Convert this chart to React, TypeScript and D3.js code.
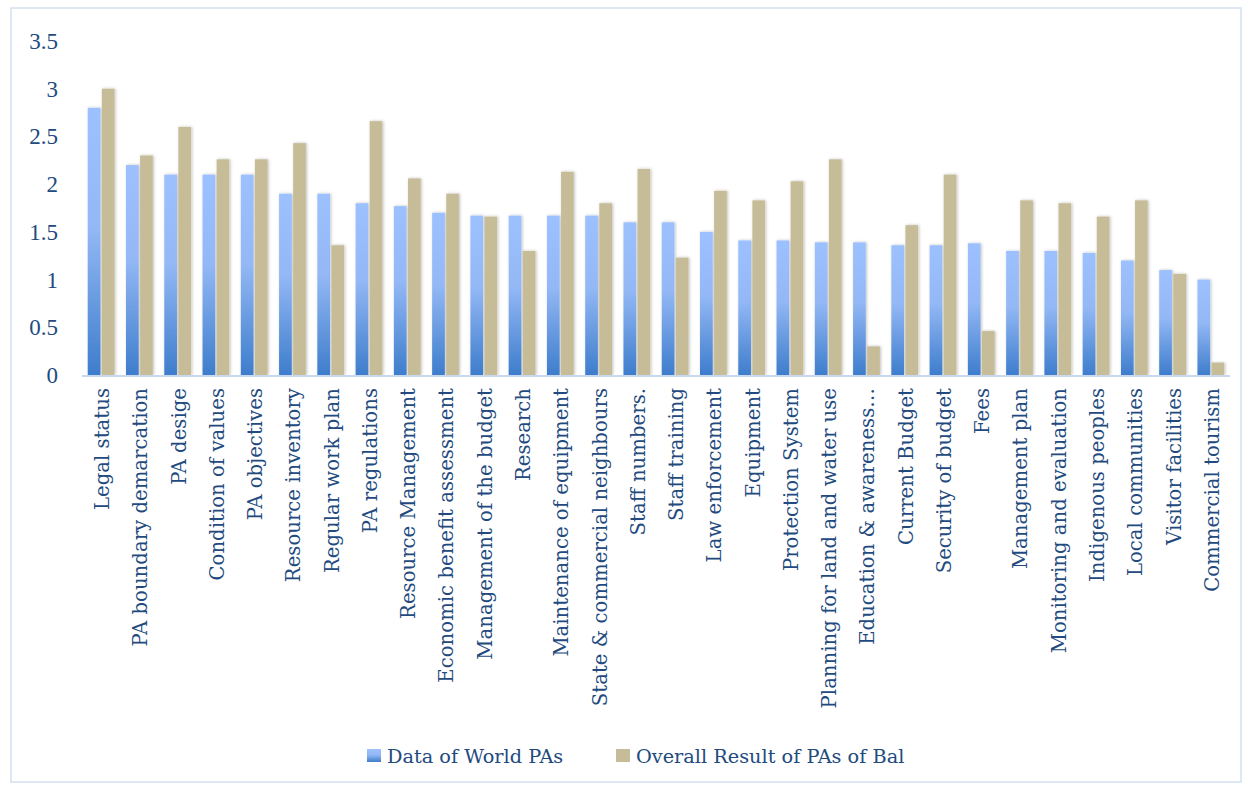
import React, { useEffect, useRef } from 'react';
import * as d3 from 'd3';

// categories along the x axis
const categories = [
  'Legal status', 'PA boundary demarcation', 'PA desige', 'Condition of values', 'PA objectives',
  'Resource inventory', 'Regular work plan', 'PA regulations', 'Resource Management',
  'Economic benefit assessment', 'Management of the budget', 'Research', 'Maintenance of equipment',
  'State & commercial neighbours', 'Staff numbers.', 'Staff training', 'Law enforcement', 'Equipment',
  'Protection System', 'Planning for land and water use', 'Education & awareness…', 'Current Budget',
  'Security of budget', 'Fees', 'Management plan', 'Monitoring and evaluation', 'Indigenous peoples',
  'Local communities', 'Visitor facilities', 'Commercial tourism',
];

const worldPAs = [
  2.8, 2.2, 2.1, 2.1, 2.1, 1.9, 1.9, 1.8, 1.77, 1.7, 1.67, 1.67, 1.67, 1.67, 1.6,
  1.6, 1.5, 1.41, 1.41, 1.39, 1.39, 1.36, 1.36, 1.38, 1.3, 1.3, 1.28, 1.2, 1.1, 1.0,
];

const balPAs = [
  3.0, 2.3, 2.6, 2.26, 2.26, 2.43, 1.36, 2.66, 2.06, 1.9, 1.66, 1.3, 2.13, 1.8, 2.16,
  1.23, 1.93, 1.83, 2.03, 2.26, 0.3, 1.57, 2.1, 0.46, 1.83, 1.8, 1.66, 1.83, 1.06, 0.13,
];

const seriesNames = ['Data of World PAs', 'Overall Result of PAs of Bal'];
const yTicks = [0, 0.5, 1, 1.5, 2, 2.5, 3, 3.5];

const W = 1248, H = 786;
const textColor = '#224a7e';
const labelFont = '"DejaVu Serif", serif';
const tickFont = '"Liberation Serif", serif';

const App = () => {
  const svgRef = useRef(null);

  useEffect(() => {
    const svg = d3.select(svgRef.current);
    svg.selectAll('*').remove();

    const defs = svg.append('defs');
    const grad = defs.append('linearGradient')
      .attr('id', 'blueGrad').attr('x1', 0).attr('y1', 0).attr('x2', 0).attr('y2', 1);
    grad.append('stop').attr('offset', '0%').attr('stop-color', '#9dc1ff');
    grad.append('stop').attr('offset', '45%').attr('stop-color', '#93b8f5');
    grad.append('stop').attr('offset', '100%').attr('stop-color', '#3e7dcc');
    const shadow = defs.append('filter').attr('id', 'shadow')
      .attr('x', '-30%').attr('y', '-5%').attr('width', '160%').attr('height', '110%');
    shadow.append('feDropShadow').attr('dx', 1).attr('dy', 0).attr('stdDeviation', 1.5)
      .attr('flood-color', '#000').attr('flood-opacity', 0.25);

    // outer frame
    svg.append('rect')
      .attr('x', 11).attr('y', 8).attr('width', 1230).attr('height', 774)
      .attr('fill', 'none').attr('stroke', '#d3e0f1').attr('stroke-width', 1.5);

    const x = d3.scaleBand()
      .domain(categories)
      .range([82, 1230])
      .paddingInner(0.3)
      .paddingOuter(0.15);

    const xSub = d3.scaleBand()
      .domain(seriesNames)
      .range([0, x.bandwidth()])
      .paddingInner(0.1);

    const y = d3.scaleLinear().domain([0, 3.5]).range([375, 41]);

    const color = d3.scaleOrdinal()
      .domain(seriesNames)
      .range(['url(#blueGrad)', '#c6bd98']);

    // y tick labels
    svg.append('g')
      .selectAll('text')
      .data(yTicks)
      .join('text')
      .attr('x', 58)
      .attr('y', d => y(d))
      .attr('dy', '0.35em')
      .attr('text-anchor', 'end')
      .style('font-family', tickFont)
      .style('font-size', '23px')
      .style('fill', textColor)
      .text(d => d);

    // bars
    svg.append('g')
      .selectAll('g')
      .data(categories)
      .join('g')
      .attr('transform', d => `translate(${x(d)},0)`)
      .selectAll('rect')
      .data((d, i) => seriesNames.map((key, k) => ({ key, value: k === 0 ? worldPAs[i] : balPAs[i] })))
      .join('rect')
      .attr('x', d => xSub(d.key))
      .attr('y', d => y(d.value))
      .attr('width', xSub.bandwidth())
      .attr('height', d => y(0) - y(d.value))
      .attr('fill', d => color(d.key))
      .attr('filter', 'url(#shadow)');

    // baseline
    svg.append('line')
      .attr('x1', 82).attr('x2', 1230)
      .attr('y1', y(0) + 1).attr('y2', y(0) + 1)
      .attr('stroke', '#c9d8ee').attr('stroke-width', 2);

    // category labels
    svg.append('g')
      .selectAll('text')
      .data(categories)
      .join('text')
      .attr('transform', d => `translate(${x(d) + x.bandwidth() / 2 + 1},388) rotate(-90)`)
      .attr('dy', '0.35em')
      .attr('text-anchor', 'end')
      .style('font-family', labelFont)
      .style('font-size', '19.7px')
      .style('fill', textColor)
      .text(d => d);

    // legend
    const legendX = [367, 616];
    const legend = svg.append('g');
    legend.selectAll('rect')
      .data(seriesNames)
      .join('rect')
      .attr('x', (d, i) => legendX[i])
      .attr('y', 749)
      .attr('width', 14)
      .attr('height', 13)
      .attr('fill', d => color(d));
    legend.selectAll('text')
      .data(seriesNames)
      .join('text')
      .attr('x', (d, i) => legendX[i] + 20)
      .attr('y', 763)
      .style('font-family', labelFont)
      .style('font-size', '19.3px')
      .style('fill', textColor)
      .text(d => d);
  }, []);

  return (
    <svg ref={svgRef} width={W} height={H}
      style={{ position: 'absolute', left: 0, top: 0, background: '#fff' }} />
  );
};

export default App;
